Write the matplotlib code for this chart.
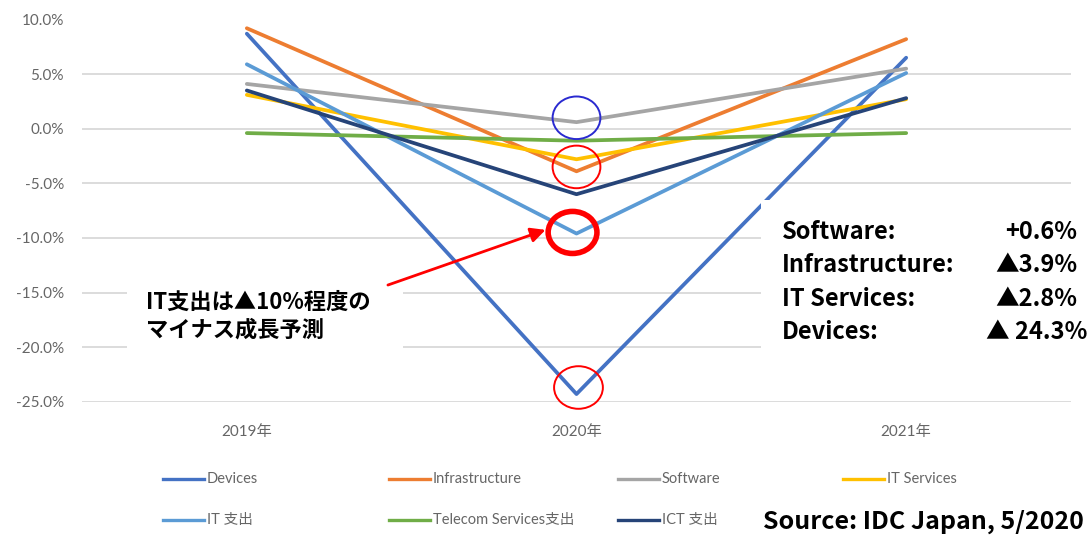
import numpy as np
import matplotlib
matplotlib.use("Agg")
from matplotlib import pyplot as plt
from matplotlib.patches import Ellipse, Rectangle
from matplotlib.lines import Line2D

plt.rcParams['font.family'] = ['Lato', 'Noto Sans CJK JP', 'DejaVu Sans']

# data (growth rate, %)
years = ['2019年', '2020年', '2021年']
devices = [8.7, -24.3, 6.5]
infrastructure = [9.2, -3.9, 8.2]
software = [4.1, 0.6, 5.5]
it_services = [3.1, -2.8, 2.7]
it_spending = [5.9, -9.6, 5.1]
telecom = [-0.4, -1.1, -0.4]
ict_spending = [3.5, -6.0, 2.8]

series_names = ['Devices', 'Infrastructure', 'Software', 'IT Services',
                'IT 支出', 'Telecom Services支出', 'ICT 支出']
series_vals = [devices, infrastructure, software, it_services,
               it_spending, telecom, ict_spending]
colors = ['#4472C4', '#ED7D31', '#A5A5A5', '#FFC000',
          '#5B9BD5', '#70AD47', '#264478']

summary_labels = ['Software:', 'Infrastructure:', 'IT Services:', 'Devices:']
summary_values = ['+0.6%', '▲3.9%', '▲2.8%', '▲ 24.3%']

W, H = 1091, 536
JP = ['Noto Sans CJK JP']


def px(x, y):
    # pixel position -> figure fraction
    return x / W, 1 - y / H


fig = plt.figure(figsize=(W / 100, H / 100), dpi=100)
fig.patch.set_facecolor('white')
ax = fig.add_axes([82 / W, (H - 401.7) / H, (1071 - 82) / W, (401.7 - 19.5) / H])

x = np.arange(len(years))
for vals, c in zip(series_vals, colors):
    ax.plot(x, vals, color=c, lw=2.7, solid_capstyle='round', zorder=3)

ax.set_xlim(-0.5, 2.5)
ax.set_ylim(-25, 10)
yt = np.arange(-25, 10.1, 5)
ax.set_yticks(yt)
ax.set_yticklabels([f'{v:.1f}%' for v in yt])
ax.set_xticks(x)
ax.set_xticklabels(years)
ax.yaxis.grid(True, color='#d9d9d9', lw=1.3)
ax.set_axisbelow(True)
for s in ax.spines.values():
    s.set_visible(False)
ax.tick_params(axis='y', length=0, pad=13, labelsize=11, labelcolor='#666666')
ax.tick_params(axis='x', length=0, pad=17, labelsize=11, labelcolor='#666666')

# circles around 2020 values
ax.add_patch(Ellipse((1.0, 1.0), 0.145, 3.9, fill=False, ec='#2a2ad0', lw=1.4, zorder=5, clip_on=False))
ax.add_patch(Ellipse((1.0, -3.5), 0.145, 3.9, fill=False, ec='red', lw=1.4, zorder=5, clip_on=False))
ax.add_patch(Ellipse((0.988, -9.5), 0.148, 3.85, fill=False, ec='red', lw=4.0, zorder=5, clip_on=False))
ax.add_patch(Ellipse((1.006, -23.7), 0.148, 3.9, fill=False, ec='red', lw=1.4, zorder=5, clip_on=False))

# annotation box + arrow
ax.add_patch(Rectangle((-0.363, -20.45), 0.837, 6.6, fc='white', ec='none', zorder=2))
ax.annotate('', xy=(0.914, -9.18), xytext=(0.42, -14.4),
            arrowprops=dict(arrowstyle='-|>', color='red', lw=2.0, mutation_scale=22),
            zorder=6)
fig.text(*px(146, 302), 'IT支出は▲10%程度の', ha='left', va='center',
         fontsize=16, fontweight='bold', family=JP, color='black')
fig.text(*px(146, 330), 'マイナス成長予測', ha='left', va='center',
         fontsize=16, fontweight='bold', family=JP, color='black')

# summary box on the right
ax.add_patch(Rectangle((1.561, -23.9), 1.0, 17.4, fc='white', ec='none',
                       zorder=4, clip_on=False))
rows_y = [239, 272, 306, 339]   # baselines
num_right = [1077, 1077, 1077, 1087]
for lab, val, yy, rx in zip(summary_labels, summary_values, rows_y, num_right):
    fig.text(*px(782, yy), lab, ha='left', va='baseline', fontsize=17,
             fontweight='bold', family=JP, color='black')
    fig.text(*px(rx, yy), val, ha='right', va='baseline', fontsize=17,
             fontweight='bold', family=JP, color='black')

# legend drawn by hand (fixed column grid like the original)
col_x = [163, 389, 618, 843]
row_y = [479, 520]
for i, (name, c) in enumerate(zip(series_names, colors)):
    cx = col_x[i % 4]
    cy = row_y[i // 4]
    x0, y0 = px(cx, cy)
    x1, _ = px(cx + 41, cy)
    fig.add_artist(Line2D([x0, x1], [y0, y0], color=c, lw=2.4, transform=fig.transFigure))
    fig.text(*px(cx + 44, cy), name, ha='left', va='center', fontsize=10.5, color='#666666')

fig.text(*px(1084, 529), 'Source: IDC Japan, 5/2020', ha='right', va='baseline',
         fontsize=18, fontweight='bold', family=JP, color='black')

fig.savefig('out.png', dpi=100)
